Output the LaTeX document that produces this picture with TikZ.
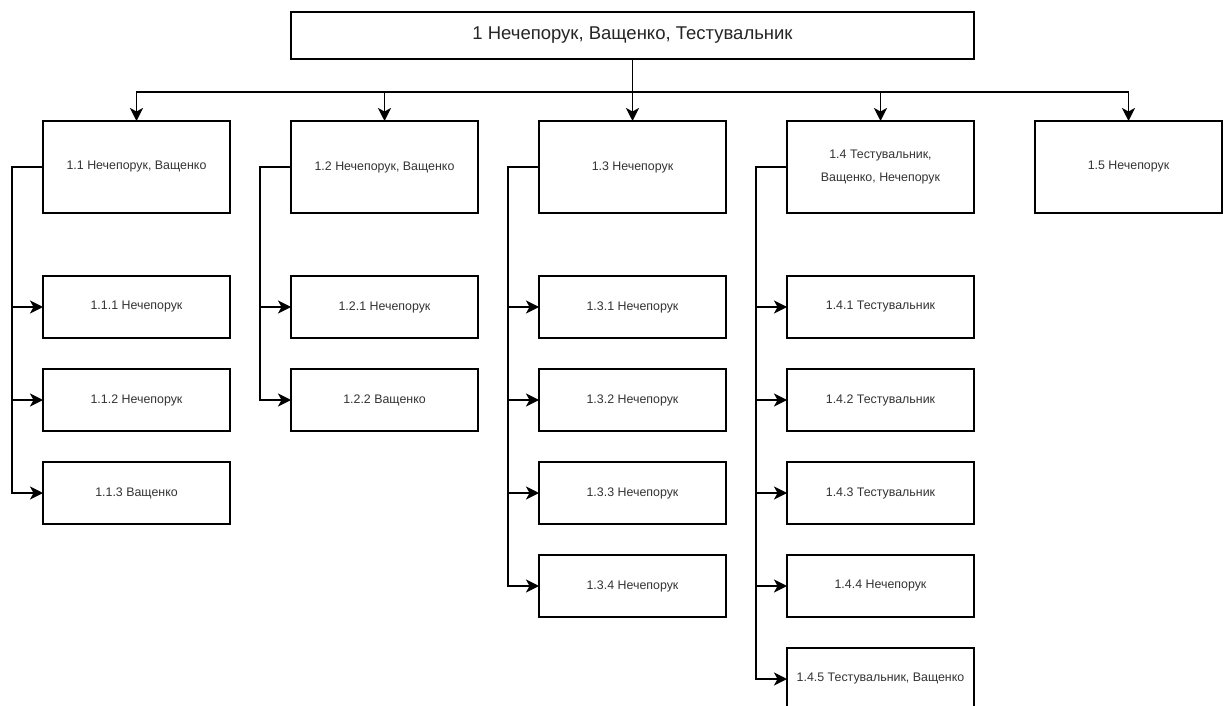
\documentclass[tikz,border=0pt]{standalone}
\usepackage{fontspec}
\setmainfont{Liberation Sans}
\usepackage{xcolor}
\usetikzlibrary{positioning,arrows.meta}
\definecolor{labelgray}{HTML}{333333}
\tikzstyle{task}=[
        draw = black,
        line width = 1.4pt,
        fill = white,
        rectangle,
        inner sep = 2pt,
        outer sep = 0pt,
        text = labelgray,
        align = center,
        font = \fontsize{12.4}{23}\selectfont
    ]
\tikzstyle{group task}=[
    task,
    minimum width = 187pt,
    minimum height = 92pt
]
\tikzstyle{sub task}=[
    task,
    minimum width = 187pt,
    minimum height = 62pt
]
\tikzstyle{link}=[
    line width = 1.6pt,
    -{Stealth[length=13pt, width=13pt, inset=3.5pt]}
]

\begin{document}
\begin{tikzpicture}[x=1pt, y=1pt]
        \useasboundingbox (0,0) rectangle (1226,-706);

        \node[group task] (11) at (136.5,-167) {1.1 Нечепорук, Ващенко};
        \node[group task] (12) [right = 61pt of 11] {1.2 Нечепорук, Ващенко};
        \node[group task] (13) [right = 61pt of 12] {1.3 Нечепорук};
        \node[group task] (14) [right = 61pt of 13] {1.4 Тестувальник,\\Ващенко, Нечепорук};
        \node[group task] (15) [right = 61pt of 14] {1.5 Нечепорук};

        \node[task, minimum width = 683pt, minimum height = 47pt, text = black!85,
              font = \fontsize{18.5}{22}\selectfont] (1) [above = 62pt of 13]
              {1 Нечепорук, Ващенко, Тестувальник};

        \node[sub task] (111) [below = 63pt of 11] {1.1.1 Нечепорук};
        \node[sub task] (112) [below = 31pt of 111] {1.1.2 Нечепорук};
        \node[sub task] (113) [below = 31pt of 112] {1.1.3 Ващенко};

        \node[sub task] (121) [below = 63pt of 12] {1.2.1 Нечепорук};
        \node[sub task] (122) [below = 31pt of 121] {1.2.2 Ващенко};

        \node[sub task] (131) [below = 63pt of 13] {1.3.1 Нечепорук};
        \node[sub task] (132) [below = 31pt of 131] {1.3.2 Нечепорук};
        \node[sub task] (133) [below = 31pt of 132] {1.3.3 Нечепорук};
        \node[sub task] (134) [below = 31pt of 133] {1.3.4 Нечепорук};

        \node[sub task] (141) [below = 63pt of 14] {1.4.1 Тестувальник};
        \node[sub task] (142) [below = 31pt of 141] {1.4.2 Тестувальник};
        \node[sub task] (143) [below = 31pt of 142] {1.4.3 Тестувальник};
        \node[sub task] (144) [below = 31pt of 143] {1.4.4 Нечепорук};
        \node[sub task] (145) [below = 31pt of 144] {1.4.5 Тестувальник, Ващенко};

        \foreach \g in {11,12,13,14,15}
            \draw[link] (1.south) -- ++(0,-33) -| (\g.north);

        \foreach \c in {111,112,113}
            \draw[link] (11.west) -- ++(-31,0) |- (\c.west);
        \foreach \c in {121,122}
            \draw[link] (12.west) -- ++(-31,0) |- (\c.west);
        \foreach \c in {131,132,133,134}
            \draw[link] (13.west) -- ++(-31,0) |- (\c.west);
        \foreach \c in {141,142,143,144,145}
            \draw[link] (14.west) -- ++(-31,0) |- (\c.west);

    \end{tikzpicture}
\end{document}
